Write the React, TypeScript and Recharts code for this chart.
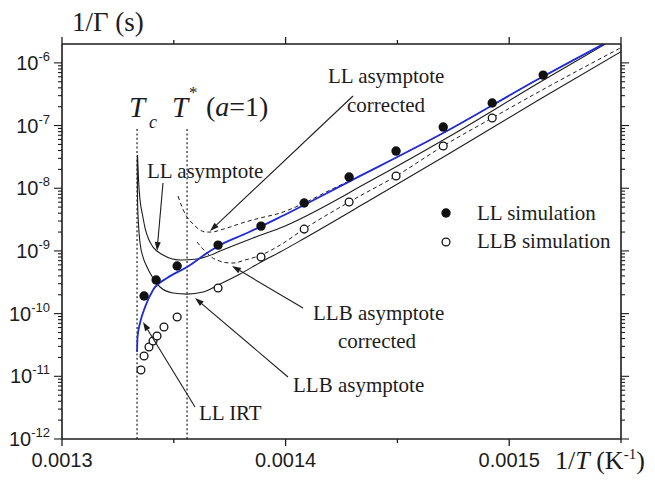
import React from 'react';
import { ComposedChart, Line, Scatter, XAxis, YAxis, ReferenceLine } from 'recharts';

// [1/T (K^-1), 1/Gamma (s)]
const llSimulation: [number, number][] = [
  [0.0013367, 1.91e-10], [0.0013421, 3.44e-10], [0.0013515, 5.74e-10], [0.0013698, 1.24e-9],
  [0.001389, 2.49e-9], [0.0014083, 5.81e-9], [0.0014284, 1.51e-8], [0.0014494, 3.92e-8],
  [0.0014705, 9.46e-8], [0.0014924, 2.29e-7], [0.0015152, 6.38e-7],
];

const llbSimulation: [number, number][] = [
  [0.0013353, 1.26e-11], [0.0013367, 2.11e-11], [0.0013389, 2.93e-11], [0.0013407, 3.66e-11],
  [0.0013425, 4.4e-11], [0.0013456, 6.11e-11], [0.0013515, 8.83e-11], [0.0013698, 2.56e-10],
  [0.001389, 8.0e-10], [0.0014083, 2.23e-9], [0.0014284, 6.03e-9], [0.0014494, 1.57e-8],
  [0.0014705, 4.71e-8], [0.0014924, 1.32e-7],
];

const llIrt: [number, number][] = [
  [0.00133356, 2.44e-11], [0.00133378, 4.24e-11], [0.0013349, 7.08e-11], [0.00133714, 1.27e-10],
  [0.00134072, 2.38e-10], [0.00134698, 3.7e-10], [0.00135593, 5.54e-10], [0.00136488, 9.26e-10],
  [0.00137069, 1.24e-9], [0.00138277, 1.93e-9], [0.00139754, 3.47e-9], [0.00142886, 1.3e-8],
  [0.00147047, 7.59e-8], [0.00151387, 5.72e-7], [0.00154206, 1.99e-6],
];

const llAsymptote: [number, number][] = [
  [0.00133378, 3.38e-8], [0.00133423, 1.35e-8], [0.0013349, 6.48e-9], [0.00133602, 3.74e-9],
  [0.00133714, 2.32e-9], [0.00133893, 1.49e-9], [0.00134072, 1.15e-9], [0.00134519, 8.6e-10],
  [0.0013528, 7.16e-10], [0.0013604, 7.43e-10], [0.00136532, 8.29e-10], [0.00137069, 9.96e-10],
  [0.00138546, 1.61e-9], [0.00139754, 2.32e-9], [0.00143781, 1.3e-8], [0.0014736, 6.8e-8],
  [0.00151387, 4.94e-7], [0.00154295, 1.99e-6],
];

const llbAsymptote: [number, number][] = [
  [0.00133365, 3.03e-8], [0.00133378, 6.48e-9], [0.00133423, 2.59e-9], [0.0013349, 1.34e-9],
  [0.00133624, 7.99e-10], [0.00133803, 5.54e-10], [0.00133937, 4.44e-10], [0.00134161, 3.31e-10],
  [0.00134385, 2.66e-10], [0.00134966, 2.13e-10], [0.00135593, 2.05e-10], [0.00136309, 2.21e-10],
  [0.0013698, 2.86e-10], [0.00137964, 4.28e-10], [0.00138904, 6.65e-10], [0.00139754, 9.61e-10],
  [0.00140828, 1.58e-9], [0.00143781, 6.48e-9], [0.0014736, 3.64e-8], [0.00151387, 2.65e-7],
  [0.00155, 1.51e-6],
];

const llAsymptoteCorrected: [number, number][] = [
  [0.0013519, 7.51e-9], [0.00135369, 5.01e-9], [0.00135593, 3.47e-9], [0.00135861, 2.69e-9],
  [0.00136175, 2.15e-9], [0.00136443, 2.0e-9], [0.00136711, 2.0e-9], [0.00137069, 2.15e-9],
  [0.00137517, 2.41e-9], [0.00138188, 2.89e-9], [0.00138859, 3.35e-9], [0.00139754, 4.02e-9],
  [0.00140649, 5.4e-9], [0.00141991, 9.36e-9], [0.00142886, 1.33e-8], [0.00147047, 7.59e-8],
  [0.00151387, 5.72e-7], [0.00154206, 1.99e-6],
];

const llbAsymptoteCorrected: [number, number][] = [
  [0.0013604, 1.39e-9], [0.00136264, 1.11e-9], [0.00136488, 9.26e-10], [0.00136711, 7.85e-10],
  [0.00136935, 7.16e-10], [0.00137293, 6.53e-10], [0.00137651, 6.41e-10], [0.00138188, 7.16e-10],
  [0.00138904, 8.6e-10], [0.00139754, 1.24e-9], [0.00140828, 2.24e-9], [0.00142841, 6.03e-9],
  [0.00144944, 1.57e-8], [0.00147047, 4.71e-8], [0.00149239, 1.32e-7], [0.00151387, 3.55e-7],
  [0.00155, 1.75e-6],
];

// Tc and T* (a=1) markers
const criticalX = [0.00133356, 0.00135593];
const criticalTop = 9.5e-8;

const xTicks = [0.0013, 0.00135, 0.0014, 0.00145, 0.0015, 0.00155];
const decades = [-12, -11, -10, -9, -8, -7, -6];
const minorSteps = [2, 3, 4, 5, 6, 7, 8, 9];

const yTicks: number[] = [];
decades.forEach((d) => {
  yTicks.push(Math.pow(10, d));
  if (d < -6) minorSteps.forEach((m) => yTicks.push(m * Math.pow(10, d)));
});

const toPts = (arr: [number, number][]) => arr.map(([x, y]) => ({ x, y }));

const SERIF = '"Liberation Serif", "Times New Roman", serif';
const SANS = '"Liberation Sans", Arial, Helvetica, sans-serif';
const INK = '#1c1c1c';
const BLUE = '#1f2bd6';

const isMajorX = (v: number) => Math.abs(v * 1e4 - Math.round(v * 1e4)) < 1e-6;
const isMajorY = (v: number) => {
  const l = Math.log10(v);
  return Math.abs(l - Math.round(l)) < 1e-6;
};

const BottomTick = ({ x, y, payload }: any) => {
  const v = payload.value;
  const major = isMajorX(v);
  return (
    <g>
      <line x1={x} y1={y} x2={x} y2={y + (major ? 7 : 4)} stroke={INK} strokeWidth={1.3} />
      {major && (
        <text x={x} y={y + 28} textAnchor="middle" fontFamily={SANS} fontSize={20} fill={INK}>
          {v.toFixed(4)}
        </text>
      )}
    </g>
  );
};

const TopTick = ({ x, y, payload }: any) => {
  const major = isMajorX(payload.value) || payload.value > 0.00154;
  return <line x1={x} y1={y} x2={x} y2={y - (major ? 7 : 4)} stroke={INK} strokeWidth={1.3} />;
};

const LeftTick = ({ x, y, payload }: any) => {
  const v = payload.value;
  const major = isMajorY(v);
  return (
    <g>
      <line x1={x} y1={y} x2={x - (major ? 8 : 4)} y2={y} stroke={INK} strokeWidth={1.1} />
      {major && (
        <text x={x - 12} y={y + 7} textAnchor="end" fontFamily={SANS} fontSize={20} fill={INK}>
          10
          <tspan dy={-9} fontSize={13}>
            {String(Math.round(Math.log10(v)))}
          </tspan>
        </text>
      )}
    </g>
  );
};

const RightTick = ({ x, y, payload }: any) => {
  const major = isMajorY(payload.value);
  return <line x1={x} y1={y} x2={x + (major ? 8 : 4)} y2={y} stroke={INK} strokeWidth={1.1} />;
};

const FilledDot = ({ cx, cy }: any) => <circle cx={cx} cy={cy} r={4.7} fill="#111" />;
const OpenDot = ({ cx, cy }: any) => (
  <circle cx={cx} cy={cy} r={3.9} fill="#fff" stroke="#111" strokeWidth={1.3} />
);

const Arrow = ({ x1, y1, x2, y2 }: { x1: number; y1: number; x2: number; y2: number }) => {
  const a = Math.atan2(y2 - y1, x2 - x1);
  const len = 9;
  const w = 3;
  const bx = x2 - len * Math.cos(a);
  const by = y2 - len * Math.sin(a);
  const px = -Math.sin(a) * w;
  const py = Math.cos(a) * w;
  return (
    <g>
      <line x1={x1} y1={y1} x2={bx} y2={by} stroke={INK} strokeWidth={1.1} />
      <polygon points={`${x2},${y2} ${bx + px},${by + py} ${bx - px},${by - py}`} fill={INK} />
    </g>
  );
};

const Label = ({ x, y, children }: { x: number; y: number; children: React.ReactNode }) => (
  <text x={x} y={y} fontFamily={SERIF} fontSize={21} fill={INK}>
    {children}
  </text>
);

export default function App() {
  return (
    <div style={{ position: 'absolute', left: 0, top: 0, width: 655, height: 483, background: '#fff' }}>
      <ComposedChart width={655} height={483} margin={{ top: 0, right: 0, bottom: 0, left: 0 }}>
        <XAxis
          xAxisId={0}
          dataKey="x"
          type="number"
          domain={[0.0013, 0.00155]}
          allowDataOverflow
          ticks={xTicks}
          interval={0}
          height={44}
          tickSize={0}
          tickMargin={0}
          tickLine={false}
          axisLine={{ stroke: INK, strokeWidth: 1.6 }}
          tick={<BottomTick />}
        />
        <XAxis
          xAxisId="top"
          orientation="top"
          dataKey="x"
          type="number"
          domain={[0.0013, 0.00155]}
          allowDataOverflow
          ticks={xTicks}
          interval={0}
          height={44}
          tickSize={0}
          tickMargin={0}
          tickLine={false}
          axisLine={{ stroke: INK, strokeWidth: 1.6 }}
          tick={<TopTick />}
        />
        <YAxis
          yAxisId={0}
          dataKey="y"
          scale="log"
          type="number"
          domain={[1e-12, 2e-6]}
          allowDataOverflow
          ticks={yTicks}
          interval={0}
          width={62}
          tickSize={0}
          tickMargin={0}
          tickLine={false}
          axisLine={{ stroke: INK, strokeWidth: 1.6 }}
          tick={<LeftTick />}
        />
        <YAxis
          yAxisId="right"
          orientation="right"
          dataKey="y"
          scale="log"
          type="number"
          domain={[1e-12, 2e-6]}
          allowDataOverflow
          ticks={yTicks}
          interval={0}
          width={34}
          tickSize={0}
          tickMargin={0}
          tickLine={false}
          axisLine={{ stroke: INK, strokeWidth: 1.6 }}
          tick={<RightTick />}
        />

        {criticalX.map((cx) => (
          <ReferenceLine
            key={cx}
            segment={[{ x: cx, y: 1e-12 }, { x: cx, y: criticalTop }]}
            stroke={INK}
            strokeWidth={1.2}
            strokeDasharray="2 2.4"
            ifOverflow="visible"
          />
        ))}

        <Line data={toPts(llbAsymptoteCorrected)} dataKey="y" type="monotone" dot={false} stroke={INK} strokeWidth={1} strokeDasharray="4 3" isAnimationActive={false} />
        <Line data={toPts(llAsymptoteCorrected)} dataKey="y" type="monotone" dot={false} stroke={INK} strokeWidth={1} strokeDasharray="4 3" isAnimationActive={false} />
        <Line data={toPts(llbAsymptote)} dataKey="y" type="monotone" dot={false} stroke={INK} strokeWidth={1.1} isAnimationActive={false} />
        <Line data={toPts(llAsymptote)} dataKey="y" type="monotone" dot={false} stroke={INK} strokeWidth={1.1} isAnimationActive={false} />
        <Line data={toPts(llIrt)} dataKey="y" type="monotone" dot={false} stroke={BLUE} strokeWidth={1.8} isAnimationActive={false} />

        <Scatter data={toPts(llbSimulation)} dataKey="y" shape={<OpenDot />} isAnimationActive={false} />
        <Scatter data={toPts(llSimulation)} dataKey="y" shape={<FilledDot />} isAnimationActive={false} />
      </ComposedChart>

      <svg width={655} height={483} style={{ position: 'absolute', left: 0, top: 0, pointerEvents: 'none' }}>
        {/* axis titles */}
        <text x={72} y={31} fontFamily={SERIF} fontSize={27} fill={INK}>1/Γ (s)</text>
        <text x={555} y={469} fontFamily={SERIF} fontSize={26} fill={INK}>
          1/<tspan fontStyle="italic">T</tspan> (K<tspan dy={-10} fontSize={15}>-1</tspan><tspan dy={10}>)</tspan>
        </text>

        {/* Tc and T* labels */}
        <text x={129} y={117} fontFamily={SERIF} fontSize={29} fontStyle="italic" fill={INK}>T</text>
        <text x={149} y={128} fontFamily={SERIF} fontSize={18} fontStyle="italic" fill={INK}>c</text>
        <text x={172} y={117} fontFamily={SERIF} fontSize={29} fontStyle="italic" fill={INK}>T</text>
        <text x={189} y={98} fontFamily={SERIF} fontSize={17} fill={INK}>*</text>
        <text x={206} y={116} fontFamily={SERIF} fontSize={28} fill={INK}>
          (<tspan fontStyle="italic">a</tspan>=1)
        </text>

        {/* annotations */}
        <Label x={147} y={178}>LL asymptote</Label>
        <Arrow x1={163} y1={183} x2={157} y2={251} />

        <Label x={328} y={83}>LL asymptote</Label>
        <Label x={347} y={112}>corrected</Label>
        <Arrow x1={353} y1={96} x2={210} y2={231} />

        <Label x={313} y={320}>LLB asymptote</Label>
        <Label x={338} y={348}>corrected</Label>
        <Arrow x1={303} y1={308} x2={232} y2={266} />

        <Label x={293} y={392}>LLB asymptote</Label>
        <Arrow x1={288} y1={377} x2={195} y2={298} />

        <Label x={199} y={420}>LL IRT</Label>
        <Arrow x1={195} y1={407} x2={143} y2={322} />

        {/* legend */}
        <circle cx={446} cy={213} r={4.7} fill="#111" />
        <Label x={477} y={220}>LL simulation</Label>
        <circle cx={446} cy={242} r={3.9} fill="#fff" stroke="#111" strokeWidth={1.3} />
        <Label x={477} y={248}>LLB simulation</Label>
      </svg>
    </div>
  );
}
